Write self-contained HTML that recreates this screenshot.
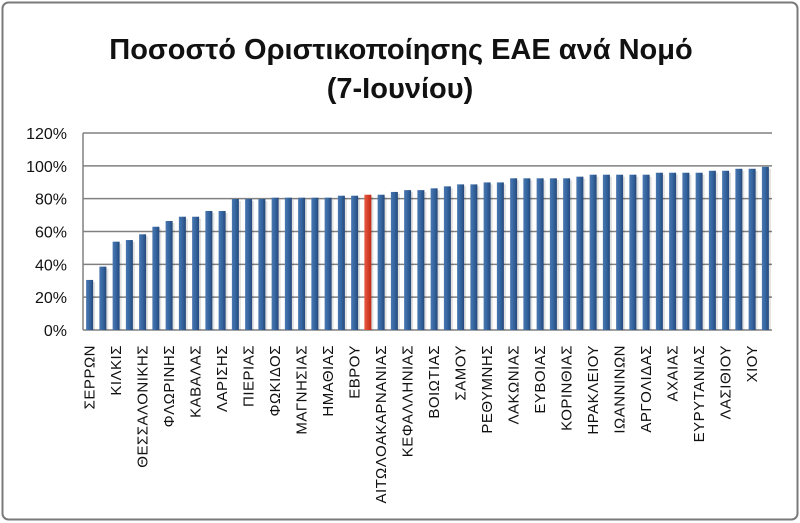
<!DOCTYPE html>
<html><head><meta charset="utf-8"><style>
html,body{margin:0;padding:0;background:#fff;}
svg{display:block;font-family:"Liberation Sans",sans-serif;}
</style></head><body>
<svg id="chart" width="800" height="523" viewBox="0 0 800 523">
<defs>
<linearGradient id="bg" x1="0" x2="1" y1="0" y2="0"><stop offset="0" stop-color="#4a78b0"/><stop offset="0.5" stop-color="#3565a0"/><stop offset="1" stop-color="#24487a"/></linearGradient>
<linearGradient id="rg" x1="0" x2="1"><stop offset="0" stop-color="#e85a40"/><stop offset="1" stop-color="#c02a18"/></linearGradient>
</defs>
<rect x="2.5" y="2.5" width="795" height="517" rx="6" fill="#fff" stroke="#7a7a7a" stroke-width="2"/>
<text x="401" y="59" text-anchor="middle" font-size="29" font-weight="bold" fill="#111">Ποσοστό Οριστικοποίησης ΕΑΕ ανά Νομό</text>
<text x="400" y="98" text-anchor="middle" font-size="29" font-weight="bold" fill="#111">(7-Ιουνίου)</text>
<g id="grid"></g><g id="bars"></g><g id="labels"></g>
</svg>
<script>
const categories=["ΣΕΡΡΩΝ","","ΚΙΛΚΙΣ","","ΘΕΣΣΑΛΟΝΙΚΗΣ","","ΦΛΩΡΙΝΗΣ","","ΚΑΒΑΛΑΣ","","ΛΑΡΙΣΗΣ","","ΠΙΕΡΙΑΣ","","ΦΩΚΙΔΟΣ","","ΜΑΓΝΗΣΙΑΣ","","ΗΜΑΘΙΑΣ","","ΕΒΡΟΥ","","ΑΙΤΩΛΟΑΚΑΡΝΑΝΙΑΣ","","ΚΕΦΑΛΛΗΝΙΑΣ","","ΒΟΙΩΤΙΑΣ","","ΣΑΜΟΥ","","ΡΕΘΥΜΝΗΣ","","ΛΑΚΩΝΙΑΣ","","ΕΥΒΟΙΑΣ","","ΚΟΡΙΝΘΙΑΣ","","ΗΡΑΚΛΕΙΟΥ","","ΙΩΑΝΝΙΝΩΝ","","ΑΡΓΟΛΙΔΑΣ","","ΑΧΑΙΑΣ","","ΕΥΡΥΤΑΝΙΑΣ","","ΛΑΣΙΘΙΟΥ","","ΧΙΟΥ",""];
const values=[30.5,38.6,53.8,54.8,58.3,62.9,66.4,69,69,72.5,72.5,79.8,79.8,79.8,80.6,80.6,80.6,80.6,80.6,81.8,81.8,82.4,82.4,84.1,85.2,85.2,86.3,87.5,88.7,88.7,89.9,89.9,92.4,92.4,92.4,92.4,92.4,93.4,94.6,94.6,94.6,94.6,94.6,95.8,95.8,95.8,95.8,97,97,98.2,98.2,99.4];
const highlightIndex=[21];
const yTicks=[0,20,40,60,80,100,120];
const yTickLabels=["0%","20%","40%","60%","80%","100%","120%"];
const NS="http://www.w3.org/2000/svg";
const L=83,R=772,T=133,B=330;
const step=(R-L)/values.length;
const y=v=>B-(v/120)*(B-T);
const xc=i=>L+step*(i+0.5);
function mk(t,a,p){const e=document.createElementNS(NS,t);for(const k in a)e.setAttribute(k,a[k]);p.appendChild(e);return e;}
const g=document.getElementById('grid');
yTicks.forEach((t,i)=>{
  const ln=mk('line',{x1:L,x2:R,y1:y(t),y2:y(t),stroke:'#808080','stroke-width':1.5},g);
  
  
  const tx=mk('text',{x:67,y:y(t)+6,'text-anchor':'end','font-size':16,fill:'#111'},g);
  tx.textContent=yTickLabels[i];
  
  
});
const ax=mk('line',{x1:L,x2:L,y1:T,y2:B,stroke:'#808080','stroke-width':1.5},g);


const bg=document.getElementById('bars');
values.forEach((v,i)=>{
  const w=7,x=xc(i)-w/2;
  const sh=mk('rect',{x:x+2,y:y(v)+2,width:w,height:B-y(v)-2,fill:'#000',opacity:0.12},bg);
  
  
  const r=mk('rect',{x:x,y:y(v),width:w,height:B-y(v),fill:highlightIndex.includes(i)?'url(#rg)':'url(#bg)'},bg);
  
  
});
const lg=document.getElementById('labels');
categories.forEach((c,i)=>{
  if(!c)return;
  const t=mk('text',{x:0,y:0,'text-anchor':'end','font-size':15,'letter-spacing':'0.5',fill:'#111',transform:`translate(${xc(i)+5},345) rotate(-90)`},lg);
  t.textContent=c;
  
  
});
</script>
</body></html>
